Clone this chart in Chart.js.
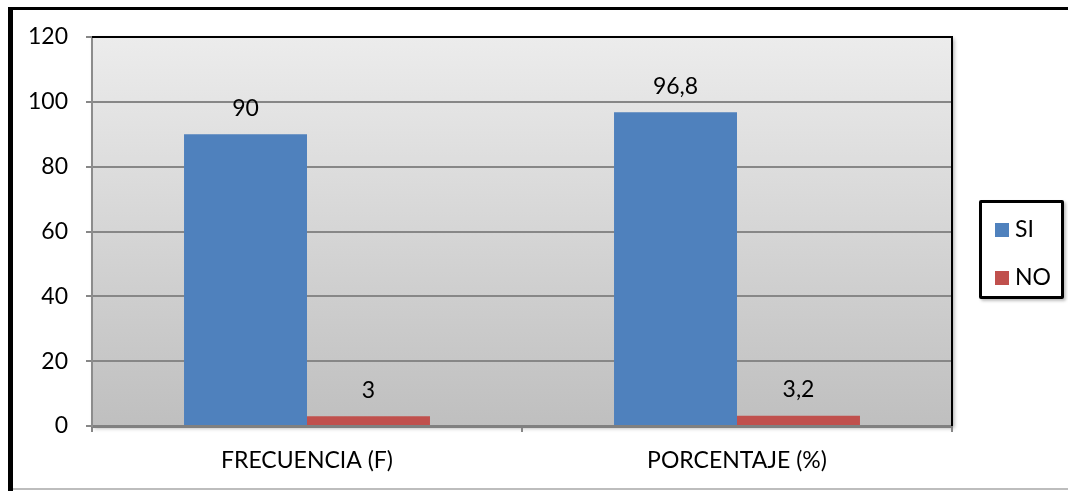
<!DOCTYPE html>
<html>
<head>
<meta charset="utf-8">
<script src="https://cdn.jsdelivr.net/npm/chart.js@4/dist/chart.umd.min.js"></script>
<style>
  html, body { margin: 0; padding: 0; background: #fff; }
  #wrap { position: relative; width: 1068px; height: 491px; }
  #legend {
    position: absolute; left: 979px; top: 200px; width: 79px; height: 93px;
    border: 3px solid #000; border-radius: 2px; background: #fff;
    box-shadow: 2px 2px 3px rgba(0,0,0,0.25);
    font-family: Lato, "Open Sans", sans-serif; font-size: 23px; color: #000;
  }
  .item { position: absolute; left: 13px; height: 26px; line-height: 26px; }
  .sw { display: inline-block; width: 14px; height: 14px; vertical-align: 0px; margin-right: 6px; }
</style>
</head>
<body>
<div id="wrap">
  <canvas id="chart" width="1068" height="491"></canvas>
  <div id="legend"></div>
</div>
<script>
// Datos
const CATEGORIAS = ["FRECUENCIA (F)", "PORCENTAJE (%)"];
const SERIES     = ["SI", "NO"];
const VALORES_SI = [90, 96.8];
const VALORES_NO = [3, 3.2];
const COLORES    = ["#4F81BD", "#C0504D"];
const Y_MAX = 120;
const Y_STEP = 20;

const FONT = "Lato, 'Open Sans', sans-serif";
const FSIZE = 23;

// ---------- Marco exterior + fondo del área de trazado ----------
const fondoPlugin = {
  id: "fondo",
  beforeDraw(chart) {
    const { ctx, chartArea: a } = chart;
    ctx.save();
    // marco del documento
    ctx.fillStyle = "#000";
    ctx.fillRect(8, 7, 1060, 3);
    ctx.fillRect(8, 7, 5, 484);
    ctx.fillStyle = "#bdbdbd";
    ctx.fillRect(13, 488, 1055, 2);

    // sombra + degradado
    ctx.shadowColor = "rgba(0,0,0,0.35)";
    ctx.shadowBlur = 4;
    ctx.shadowOffsetX = 2;
    ctx.shadowOffsetY = 2;
    const g = ctx.createLinearGradient(0, a.top, 0, a.bottom);
    g.addColorStop(0, "#ececec");
    g.addColorStop(1, "#bfbfbf");
    ctx.fillStyle = g;
    ctx.fillRect(a.left, a.top, a.right - a.left, a.bottom - a.top);
    ctx.restore();
  },
  afterDatasetsDraw(chart) {
    const { ctx, chartArea: a } = chart;
    ctx.save();
    // borde superior y derecho negro
    ctx.strokeStyle = "#000";
    ctx.lineWidth = 2;
    ctx.beginPath();
    ctx.moveTo(a.left, a.top);
    ctx.lineTo(a.right, a.top);
    ctx.lineTo(a.right, a.bottom);
    ctx.stroke();

    // etiquetas de valor
    ctx.fillStyle = "#000";
    ctx.font = FSIZE + "px " + FONT;
    ctx.textAlign = "center";
    ctx.textBaseline = "middle";
    chart.data.datasets.forEach((ds, i) => {
      chart.getDatasetMeta(i).data.forEach((bar, j) => {
        const txt = String(ds.data[j]).replace(".", ",");
        ctx.fillText(txt, bar.x, bar.y - 26);
      });
    });
    ctx.restore();
  }
};

function initChart() {
  const ctx = document.getElementById("chart");
  new Chart(ctx, {
    type: "bar",
    data: {
      labels: CATEGORIAS,
      datasets: [
        { label: SERIES[0], data: VALORES_SI, backgroundColor: COLORES[0] },
        { label: SERIES[1], data: VALORES_NO, backgroundColor: COLORES[1] }
      ]
    },
    options: {
      responsive: false,
      animation: false,
      layout: { padding: { left: 0, top: 37, right: 116, bottom: 0 } },
      datasets: { bar: { categoryPercentage: 0.572, barPercentage: 1.0 } },
      plugins: { legend: { display: false }, tooltip: { enabled: false } },
      scales: {
        x: {
          offset: true,
          grid: { offset: true, drawOnChartArea: false, drawTicks: true, tickLength: 6, color: "#868686", lineWidth: 2 },
          border: { display: true, color: "#808080", width: 3 },
          ticks: { color: "#000", font: { family: FONT, size: FSIZE }, padding: 15 },
          afterFit(scale) { scale.height = 491 - 426; }
        },
        y: {
          min: 0,
          max: Y_MAX,
          grid: { color: "#878787", lineWidth: 2, tickLength: 6, drawTicks: true },
          border: { display: true, color: "#8c8c8c", width: 2 },
          ticks: { stepSize: Y_STEP, color: "#000", font: { family: FONT, size: FSIZE }, padding: 18 },
          afterFit(scale) { scale.width = 92; }
        }
      }
    },
    plugins: [fondoPlugin]
  });
}

// ---------- Leyenda ----------
function initLegend() {
  const box = document.getElementById("legend");
  SERIES.forEach((s, i) => {
    const d = document.createElement("div");
    d.className = "item";
    d.style.top = (i === 0 ? 12 : 60) + "px";
    d.innerHTML = `<span class="sw" style="background:${COLORES[i]}"></span>${s}`;
    box.appendChild(d);
  });
}

initChart();
initLegend();
</script>
</body>
</html>
